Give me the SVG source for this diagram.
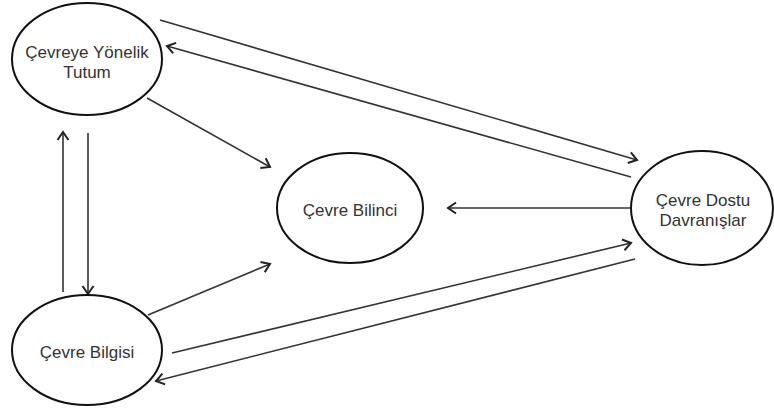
<svg xmlns="http://www.w3.org/2000/svg" width="774" height="409" viewBox="0 0 774 409">
<style>
.node ellipse{fill:#fff;stroke:#111;stroke-width:2}
.node text{font-family:"Liberation Sans",Arial,sans-serif;font-size:17px;fill:#333;text-anchor:middle}
.edges line{stroke:#333;stroke-width:1.6;marker-end:url(#arr)}
</style>
<defs>
<marker id="arr" markerUnits="userSpaceOnUse" markerWidth="14" markerHeight="14" viewBox="-1 -7 12 14" refX="9" refY="0" orient="auto">
<path d="M1,-5.5 L9,0 L1,5.5" fill="none" stroke="#222" stroke-width="2"/>
</marker>
</defs>
<rect width="774" height="409" fill="#fff"/>
<g class="edges">
<line x1="160" y1="20" x2="637" y2="160"/>
<line x1="631" y1="177" x2="167" y2="46"/>
<line x1="147" y1="98" x2="270" y2="167"/>
<line x1="630" y1="208" x2="448" y2="208"/>
<line x1="148" y1="315" x2="270" y2="264"/>
<line x1="172" y1="353" x2="631" y2="243"/>
<line x1="635" y1="259" x2="156" y2="381"/>
<line x1="63" y1="292" x2="63" y2="132"/>
<line x1="88" y1="133" x2="88" y2="294"/>
</g>
<g id="tutum" class="node">
<ellipse cx="87" cy="59" rx="75" ry="56"/>
<text x="87" y="58">Çevreye Yönelik</text>
<text x="87" y="78">Tutum</text>
</g>
<g id="bilgisi" class="node">
<ellipse cx="87" cy="350" rx="75" ry="55"/>
<text x="87" y="358">Çevre Bilgisi</text>
</g>
<g id="bilinci" class="node">
<ellipse cx="350" cy="208" rx="73" ry="55"/>
<text x="350" y="216">Çevre Bilinci</text>
</g>
<g id="dostu" class="node">
<ellipse cx="702" cy="208" rx="71" ry="57"/>
<text x="703" y="206">Çevre Dostu</text>
<text x="703" y="226">Davranışlar</text>
</g>
</svg>
